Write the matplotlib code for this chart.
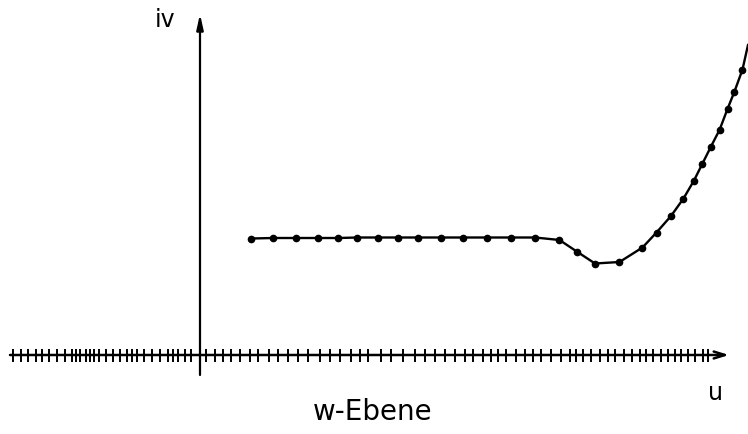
import numpy as np
import matplotlib
matplotlib.use("Agg")
import matplotlib.pyplot as plt

# image of the curve in the w-plane (u = Re w, v = Im w)
u_pts = [1.03, 1.47, 1.93, 2.37, 2.77, 3.15, 3.57, 3.97, 4.37, 4.82, 5.27,
         5.73, 6.22, 6.70, 7.19, 7.55, 7.90, 8.39, 8.85, 9.13, 9.42, 9.67,
         9.88, 10.05, 10.22, 10.39, 10.55, 10.69, 10.85]
v_pts = [2.33, 2.34, 2.34, 2.34, 2.34, 2.35, 2.35, 2.35, 2.35, 2.35, 2.35,
         2.35, 2.35, 2.35, 2.30, 2.06, 1.83, 1.86, 2.15, 2.45, 2.78, 3.13,
         3.49, 3.83, 4.17, 4.50, 4.92, 5.27, 5.71]
# curve continues past the last marker to the frame edge
u_tail = [10.85, 10.96]
v_tail = [5.71, 6.20]

# tick marks on the u axis (images of equally spaced points)
u_ticks = [-3.74, -3.58, -3.44, -3.28, -3.16, -3.02, -2.86, -2.70, -2.56,
           -2.48, -2.40, -2.28, -2.20, -2.12, -2.02, -1.88, -1.74, -1.60,
           -1.46, -1.36, -1.26, -1.12, -0.96, -0.80, -0.64, -0.54, -0.44,
           -0.30, -0.17, 0.13, 0.30, 0.47, 0.63, 0.80, 1.00, 1.17, 1.37,
           1.57, 1.77, 1.97, 2.17, 2.40, 2.60, 2.80, 3.03, 3.20, 3.37, 3.63,
           3.83, 4.07, 4.30, 4.50, 4.70, 4.90, 5.10, 5.30, 5.47, 5.67, 5.83,
           5.97, 6.13, 6.33, 6.50, 6.67, 6.83, 7.03, 7.23, 7.40, 7.53, 7.67,
           7.83, 8.00, 8.17, 8.30, 8.47, 8.63, 8.80, 8.93, 9.07, 9.23, 9.37,
           9.50, 9.63, 9.77, 9.90, 10.07, 10.17]

fig = plt.figure(figsize=(7.48, 4.34), dpi=100)
ax = fig.add_axes([0, 0, 1, 1])
ax.set_xlim(-4.0, 10.96)
ax.set_ylim(-1.58, 7.10)
ax.axis("off")

k = "black"
# axes with arrows
ax.annotate("", xy=(10.58, 0), xytext=(-3.80, 0),
            arrowprops=dict(arrowstyle="->,head_length=0.8,head_width=0.25",
                            lw=1.8, color=k, shrinkA=0, shrinkB=0))
ax.annotate("", xy=(0, 6.82), xytext=(0, -0.40),
            arrowprops=dict(arrowstyle="-|>,head_length=0.9,head_width=0.2",
                            lw=1.6, color=k, shrinkA=0, shrinkB=0))

# ticks on u axis
ax.vlines(u_ticks, -0.13, 0.13, color=k, lw=1.4)

# curve
ax.plot(u_pts, v_pts, "-", color=k, lw=1.7)
ax.plot(u_tail, v_tail, "-", color=k, lw=1.7)
ax.plot(u_pts, v_pts, "o", color=k, ms=4.5)

ax.text(-0.70, 6.70, "iv", fontsize=17, ha="center", va="center")
ax.text(10.32, -0.76, "u", fontsize=17, ha="center", va="center")
ax.text(3.46, -1.15, "w-Ebene", fontsize=20, ha="center", va="center")

fig.savefig("out.png", dpi=100)
